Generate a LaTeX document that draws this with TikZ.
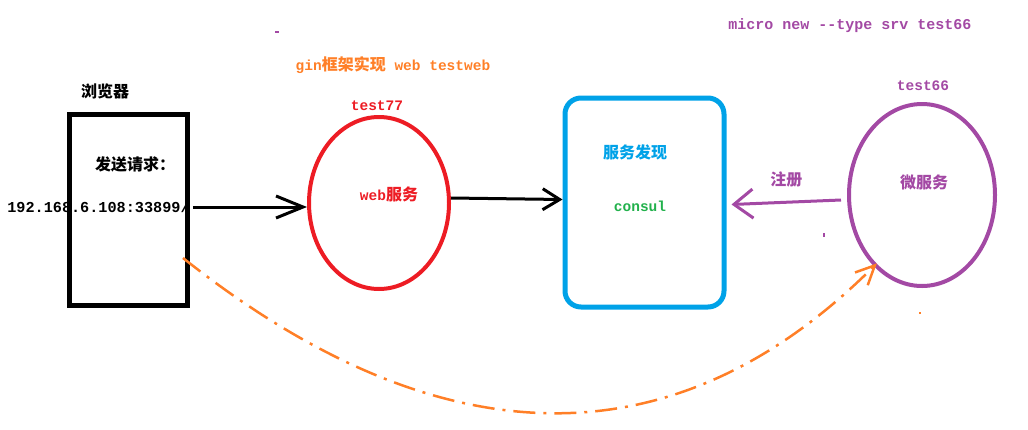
\documentclass[tikz,border=0pt]{standalone}
\usepackage{fontspec}
\setmainfont{Liberation Mono}
\newfontfamily\cjk{Noto Sans CJK SC}
\usepackage{xcolor}
\usepackage{tikz}
\usetikzlibrary{
  arrows.meta,
  shapes.geometric,
  positioning
}
\definecolor{paintred}{HTML}{ED1C24}
\definecolor{paintblue}{HTML}{00A2E8}
\definecolor{paintgreen}{HTML}{22B14C}
\definecolor{paintpurple}{HTML}{A349A4}
\definecolor{paintorange}{HTML}{FF7F27}
\newcommand\zh[1]{{\cjk\bfseries\fontsize{16}{18}\selectfont #1}}

\begin{document}
\begin{tikzpicture}[%
          x=1pt,y=-1pt,
          barb/.style 2 args={
              -{Straight Barb[length=#1,width=#2]}
            },
          txt/.style={
              inner sep=0pt,
              font=\bfseries\fontsize{14.5}{16}\selectfont
            },
          service/.style={
              ellipse,
              draw,
              line width=4pt,
              minimum width=140pt,
              minimum height=172pt
            }
        ]
        \useasboundingbox (0,0) rectangle (1028,429);

        % ブラウザ
        \node[draw, line width=5pt, minimum width=118pt, minimum height=191pt]
          (browser) at (128.5,210) {};
        \node[txt] (browsername) at (105,91) {\zh{浏览器}};
        \node[txt] (request) at (135,164) {\zh{发送请求：}};
        \node[txt, font=\bfseries\fontsize{15.2}{17}\selectfont] (url) at (98.5,207) {192.168.6.108:33899/};

        % web サービス
        \node[txt, text=paintorange] (gin) at (393,65) {gin\zh{框架实现} web testweb};
        \node[service, draw=paintred] (web) at (379,203) {};
        \node[txt, text=paintred] (webname) at (377,106) {test77};
        \node[txt, text=paintred] (webtext) at (389,194) {web\zh{服务}};

        % サービス発見
        \node[draw=paintblue, line width=5pt, rounded corners=16pt,
          minimum width=159pt, minimum height=209pt] (discovery) at (644.5,202.5) {};
        \node[txt, text=paintblue] (discoverytext) at (635,152) {\zh{服务发现}};
        \node[txt, text=paintgreen] (consul) at (640,206) {consul};

        % マイクロサービス
        \node[service, draw=paintpurple, minimum width=146pt, minimum height=182pt]
          (micro) at (922,195) {};
        \node[txt, text=paintpurple] (microname) at (923,86) {test66};
        \node[txt, text=paintpurple] (microtext) at (924,182) {\zh{微服务}};
        \node[txt, text=paintpurple, font=\bfseries\fontsize{15}{17}\selectfont]
          (command) at (850,26) {micro new -{}-type srv test66};

        % 矢印
        \draw[line width=3pt, barb={27pt}{22pt}]
          ([xshift=3pt]url.east) -- (web.west |- url);
        \draw[line width=3pt, barb={17pt}{21pt}]
          ([yshift=5pt]web.east) -- ([yshift=3pt]discovery.west);
        \draw[paintpurple, line width=3pt, barb={19pt}{29pt}]
          ([xshift=-6pt,yshift=-5pt]micro.west) -- ([xshift=5pt,yshift=-2pt]discovery.east)
          node[txt, midway, above=14pt] (register) {\zh{注册}};

        % 曲線
        \coordinate (curvestart) at (183,258);
        \draw[
          paintorange,
          line width=2.5pt,
          dash pattern=on 22pt off 8pt on 3pt off 8pt,
          barb={19pt}{18pt}
        ] (curvestart) .. controls +(260,206) and +(-200,200) .. ([shift={(3pt,3pt)}]micro.236);

        % 小さな点
        \fill[paintpurple] (275,31) rectangle (279,33);
        \fill[paintpurple] (823,233) rectangle (825,237);
        \fill[paintorange] (919,312) rectangle (921,314);

      \end{tikzpicture}
\end{document}
